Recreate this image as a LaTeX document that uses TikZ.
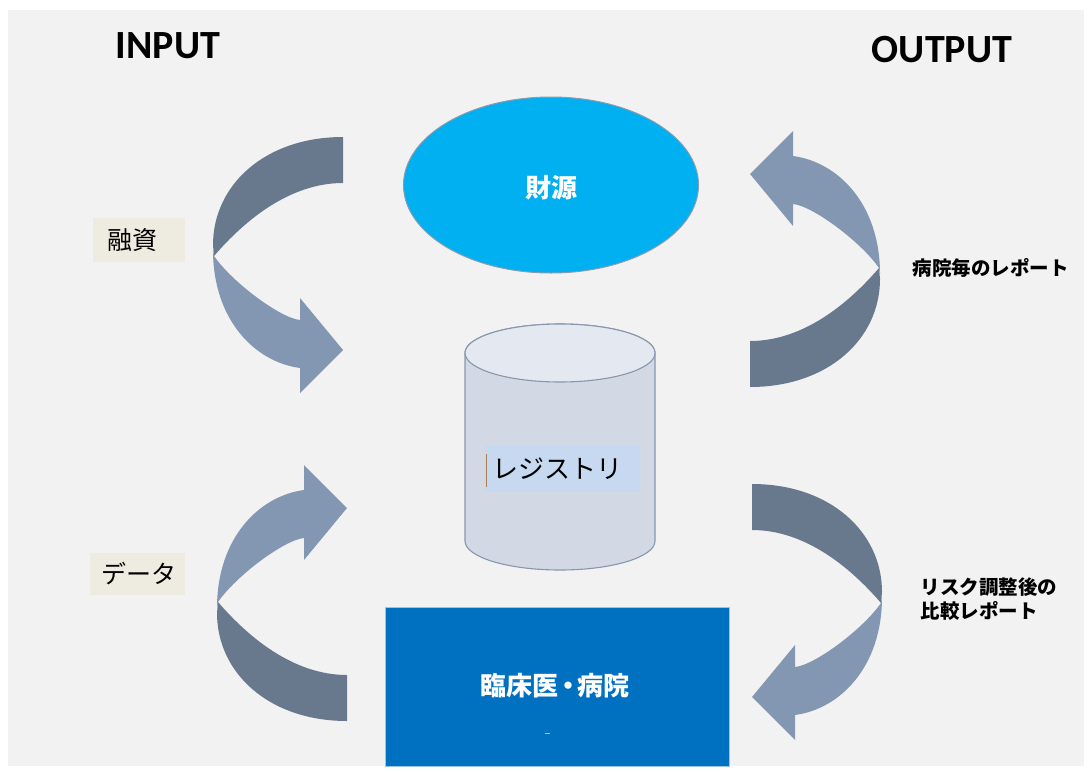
\documentclass[tikz,border=0pt]{standalone}
\usepackage{fontspec}
\setmainfont{Carlito}
\newfontfamily\jp{Noto Sans CJK JP}
\usetikzlibrary{shapes.geometric}

\definecolor{panel}{HTML}{F2F2F2}
\definecolor{ribbondark}{HTML}{68788D}
\definecolor{ribbonlight}{HTML}{8497B2}
\definecolor{fundfill}{HTML}{00B0F0}
\definecolor{fundline}{HTML}{8C9BB0}
\definecolor{cylbody}{HTML}{D3D9E4}
\definecolor{cyltop}{HTML}{E4E8F0}
\definecolor{cylline}{HTML}{8797AC}
\definecolor{regfill}{HTML}{C6D9F1}
\definecolor{hospfill}{HTML}{0070C0}
\definecolor{hospline}{HTML}{9DC3E6}
\definecolor{tagfill}{HTML}{EEECE1}

% one curved ribbon arrow: dark tail half, light head half
\newcommand\curvedribbon{%
  \fill[ribbonlight] (214,256) -- (213,250)
    .. controls (213,320) and (255,362) .. (300,368)
    -- (300,393) -- (343,350) -- (300,298) -- (300,320)
    .. controls (280,318) and (232,282) .. (214,256) -- cycle;
  \fill[ribbondark] (343,137)
    .. controls (265,137) and (213,185) .. (213,245)
    -- (214,256)
    .. controls (245,220) and (290,183) .. (343,183) -- cycle;
}

\tikzset{
  heading/.style={font=\fontsize{40}{44}\selectfont\bfseries, text=black},
  tagbox/.style={fill=tagfill, inner sep=0pt},
  tagtext/.style={font=\jp\fontsize{25}{30}\selectfont, text=black},
  sidenote/.style={font=\jp\bfseries\fontsize{19.5}{23.5}\selectfont, text=black, align=left},
  whitelabel/.style={font=\jp\bfseries\fontsize{26}{30}\selectfont, text=white},
}

\begin{document}
\begin{tikzpicture}[x=1pt, y=-1pt]
\useasboundingbox (0,0) rectangle (1091,771);
\fill[white] (0,0) rectangle (1091,771);
\fill[panel] (8,10) rectangle (1084,766);

% headings
\node[heading] (input) at (168,46) {INPUT};
\node[heading] (output) at (942,50) {OUTPUT};

% the four curved arrows
\curvedribbon
\begin{scope}[shift={(1093,524)}, scale=-1]
  \curvedribbon
\end{scope}
\begin{scope}[shift={(4,858)}, yscale=-1]
  \curvedribbon
\end{scope}
\begin{scope}[shift={(1095,347)}, xscale=-1]
  \curvedribbon
\end{scope}

% funding source
\node[ellipse, draw=fundline, line width=1pt, fill=fundfill,
      minimum width=295pt, minimum height=176pt, inner sep=0pt]
      (fund) at (551,185) {};
\node[whitelabel] (fundtext) at (551,188) {財源};

% registry cylinder (y axis points down, so angle 90 is the lower side)
\filldraw[fill=cylbody, draw=cylline, line width=1.1pt]
  (465,353) -- (465,541)
  arc[start angle=180, end angle=0, x radius=95, y radius=29]
  -- (655,353) arc[start angle=0, end angle=-180, x radius=95, y radius=29];
\filldraw[fill=cyltop, draw=cylline, line width=1.1pt]
  (560,353) ellipse[x radius=95, y radius=29];
\node[fill=regfill, minimum width=155pt, minimum height=47pt, inner sep=0pt]
  (regbox) at (562.5,468.5) {};
\node[font=\jp\fontsize{26}{30}\selectfont, text=black] (reg) at (557,469) {レジストリ};
\draw[color=brown!60!gray, line width=0.8pt] (486,454) -- (486,487);

% clinicians and hospitals
\node[draw=hospline, line width=1pt, fill=hospfill,
      minimum width=344pt, minimum height=159pt, inner sep=0pt]
      (hosp) at (557,686.5) {};
\node[whitelabel] (hosptext) at (555,686) {臨床医\kern-0.15em・\kern-0.15em病院};
\draw[color=hospline, line width=0.8pt] (545,733) -- (550,733);

% input labels
\node[tagbox, minimum width=92pt, minimum height=44pt] (fundingbox) at (139,240) {};
\node[tagtext] (funding) at (132,240) {融資};
\node[tagbox, minimum width=95pt, minimum height=42pt] (databox) at (137.5,574) {};
\node[tagtext] (data) at (139,574) {データ};

% output labels
\node[sidenote, anchor=west] (perhosp) at (909,268) {病院毎のレポート};
\node[sidenote, anchor=west] (riskadj) at (917,599) {リスク調整後の\\比較レポート};
\end{tikzpicture}
\end{document}
